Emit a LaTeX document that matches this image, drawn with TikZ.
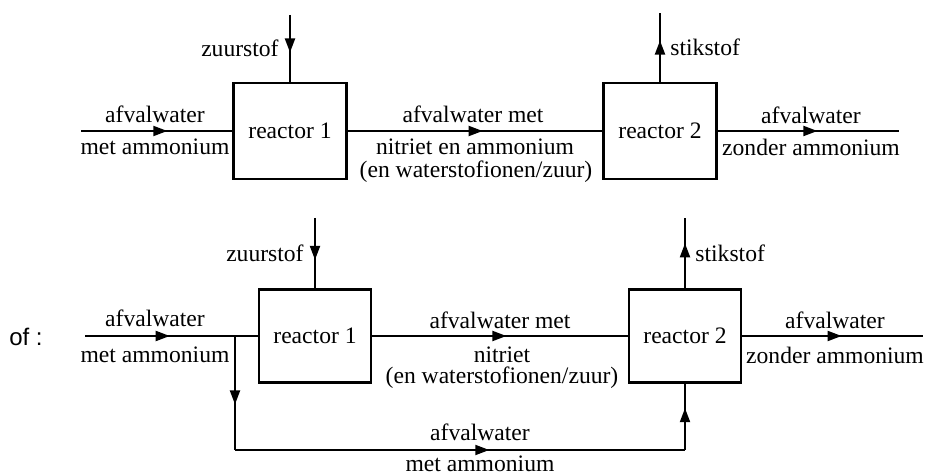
\documentclass[tikz,border=0pt]{standalone}
\usepackage{fontspec}
\setmainfont{Liberation Serif}
\newfontfamily\sansf{Liberation Sans}
\usetikzlibrary{arrows.meta,decorations.markings}
\tikzset{
  flow/.style={line width=1pt},
  tipat/.style={postaction={decorate},
    decoration={markings, mark=at position #1 with {\arrow{Triangle[length=7pt,width=5pt]}}}},
  boxa/.style={draw, line width=1.1pt, minimum width=56.5pt, minimum height=48pt, inner sep=0pt},
  boxb/.style={draw, line width=1.1pt, minimum width=56pt, minimum height=46.5pt, inner sep=0pt},
  lab/.style={inner sep=0pt},
  every node/.style={font=\fontsize{11.8pt}{14pt}\selectfont},
}
\begin{document}
\begin{tikzpicture}[x=0.5pt,y=-0.5pt]
\useasboundingbox (0,0) rectangle (926,475);
% ---------- top scheme ----------
\coordinate (in1) at (81,131);
\node[boxa] (r1a) at (290,131) {reactor 1};
\node[boxa] (r2a) at (660,131) {reactor 2};
\coordinate (out1) at (899,131);
\coordinate (z1) at (290,15);
\coordinate (s1) at (660,13);
\draw[flow,tipat=0.57] (in1) -- (r1a);
\draw[flow,tipat=0.56] (z1) -- (r1a);
\draw[flow,tipat=0.53] (r1a) -- (r2a);
\draw[flow,tipat=0.6] (r2a) -- (s1);
\draw[flow,tipat=0.55] (r2a) -- (out1);
\node[lab] (ta1) at (155,114) {afvalwater};
\node[lab] (ta2) at (155,147) {met ammonium};
\node[lab,anchor=east] (tz) at (279,48) {zuurstof};
\node[lab] (tm1) at (473,114) {afvalwater met};
\node[lab] (tm2) at (475,147) {nitriet en ammonium};
\node[lab] (tm3) at (476,172) {(en waterstofionen/zuur)};
\node[lab,anchor=west] (ts) at (670,47) {stikstof};
\node[lab] (to1) at (811,115) {afvalwater};
\node[lab] (to2) at (811,147) {zonder ammonium};
% ---------- bottom scheme ----------
\node[lab,font=\sansf\fontsize{12pt}{14pt}\selectfont] (of) at (26,337) {of :};
\coordinate (in2) at (85,336);
\node[boxb] (r1b) at (315,336) {reactor 1};
\node[boxb] (r2b) at (685,336) {reactor 2};
\coordinate (br) at (235,336);
\coordinate (bl) at (235,450);
\coordinate (brr) at (685,450);
\coordinate (z2) at (315,218);
\coordinate (s2) at (685,218);
\coordinate (out2) at (923,336);
\draw[flow,tipat=0.49] (in2) -- (r1b);
\draw[flow,tipat=0.6] (br) -- (bl);
\draw[flow,tipat=0.565] (bl) -- (brr);
\draw[flow,tipat=0.63] (brr) -- (r2b);
\draw[flow,tipat=0.595] (z2) -- (r1b);
\draw[flow,tipat=0.525] (r1b) -- (r2b);
\draw[flow,tipat=0.64] (r2b) -- (s2);
\draw[flow,tipat=0.55] (r2b) -- (out2);
\node[lab] (ba1) at (155,318) {afvalwater};
\node[lab] (ba2) at (155,355) {met ammonium};
\node[lab,anchor=east] (bz) at (304,253) {zuurstof};
\node[lab] (bm1) at (500,320) {afvalwater met};
\node[lab] (bm2) at (502,355) {nitriet};
\node[lab] (bm3) at (502,378) {(en waterstofionen/zuur)};
\node[lab,anchor=west] (bs) at (695,253) {stikstof};
\node[lab] (bo1) at (835,320) {afvalwater};
\node[lab] (bo2) at (835,355) {zonder ammonium};
\node[lab] (bb1) at (480,432) {afvalwater};
\node[lab] (bb2) at (480,464) {met ammonium};
\end{tikzpicture}
\end{document}
